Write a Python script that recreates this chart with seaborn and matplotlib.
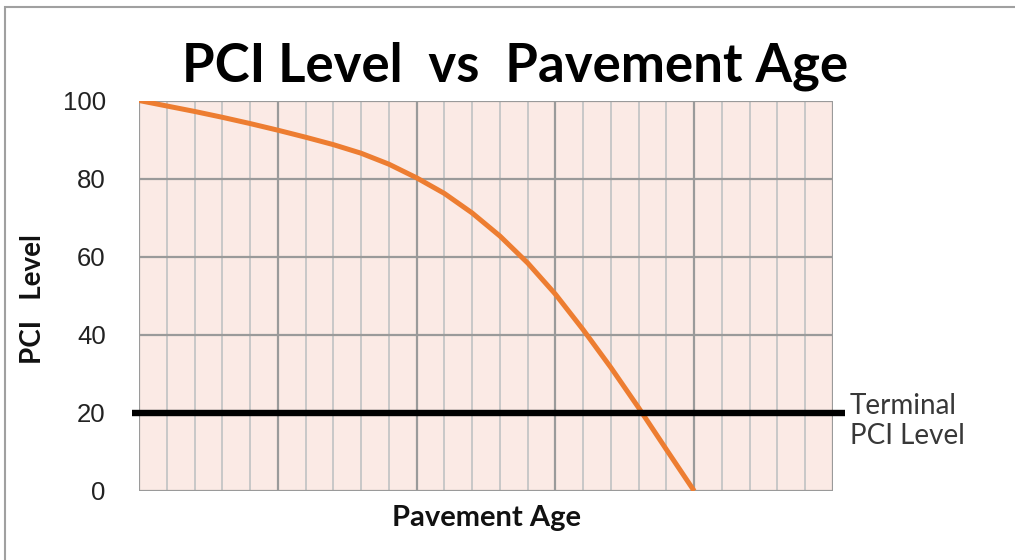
import matplotlib
matplotlib.use("Agg")
import matplotlib.pyplot as plt
import seaborn as sns
import pandas as pd
from matplotlib.patches import Rectangle

# Data
pavement_age = [0, 1, 2, 3, 4, 5, 6, 7, 8, 9, 10, 11, 12, 13, 14, 15, 16, 17, 18, 19, 20]
pci_level = [100, 98.6, 97.2, 95.7, 94.1, 92.4, 90.6, 88.7, 86.5, 83.7, 80.2,
             76.2, 71.2, 65.3, 58.4, 50.4, 41.3, 31.6, 21.3, 10.6, 0]
terminal_pci = 20
y_ticks = [0, 20, 40, 60, 80, 100]

df = pd.DataFrame({"age": pavement_age, "pci": pci_level})

sns.set_style("white")
fig = plt.figure(figsize=(10.15, 5.6), dpi=100)
ax = fig.add_axes([139 / 1015, 1 - 491 / 560, (833 - 139) / 1015, (491 - 100.5) / 560])
ax.set_facecolor("#FBEAE5")

# grid
for x in range(0, 26):
    major = x % 5 == 0
    ax.axvline(x, color="#9A9A9A" if major else "#C8C8C8", lw=1.6 if major else 1.4, zorder=1)
for y in y_ticks:
    ax.axhline(y, color="#9A9A9A", lw=1.6, zorder=1)

sns.lineplot(data=df, x="age", y="pci", ax=ax, color="#ED7D31", lw=3.6, zorder=3,
             solid_capstyle="butt", solid_joinstyle="round")

ax.plot([-0.25, 25.45], [terminal_pci, terminal_pci], color="black", lw=4.6,
        clip_on=False, zorder=4, solid_capstyle="butt")

ax.set_xlim(0, 25)
ax.set_ylim(0, 100)
ax.set_xticks([])
ax.set_yticks(y_ticks)
ax.set_yticklabels([str(v) for v in y_ticks], family="Liberation Sans", fontsize=18.5,
                   color="#222222")
ax.tick_params(axis="y", length=0, pad=24)
for s in ax.spines.values():
    s.set_visible(False)

ax.set_xlabel("")
ax.set_ylabel("")

fig.text(33 / 1015, (560 - 299) / 560, "PCI   Level", rotation=90, ha="center", va="center",
         family="Lato", fontweight="bold", fontsize=20, color="#111111")
fig.text(487 / 1015, 1 - 518 / 560, "Pavement Age", ha="center", va="center",
         family="Lato", fontweight="bold", fontsize=21, color="#111111")
fig.text(515 / 1015, 1 - 66 / 560, "PCI Level  vs  Pavement Age", ha="center", va="center",
         family="Lato", fontweight="bold", fontsize=38, color="black")
fig.text(850 / 1015, 1 - 421 / 560, "Terminal\nPCI Level", ha="left", va="center",
         family="Lato", fontsize=20, color="#383838", linespacing=1.2)

# figure border
fig.patches.append(Rectangle((5 / 1015, -0.1), 1.2, 1 - 7 / 560 + 0.1, transform=fig.transFigure,
                             fill=False, edgecolor="#A0A0A0", lw=1.5))

fig.savefig("out.png", dpi=100)
